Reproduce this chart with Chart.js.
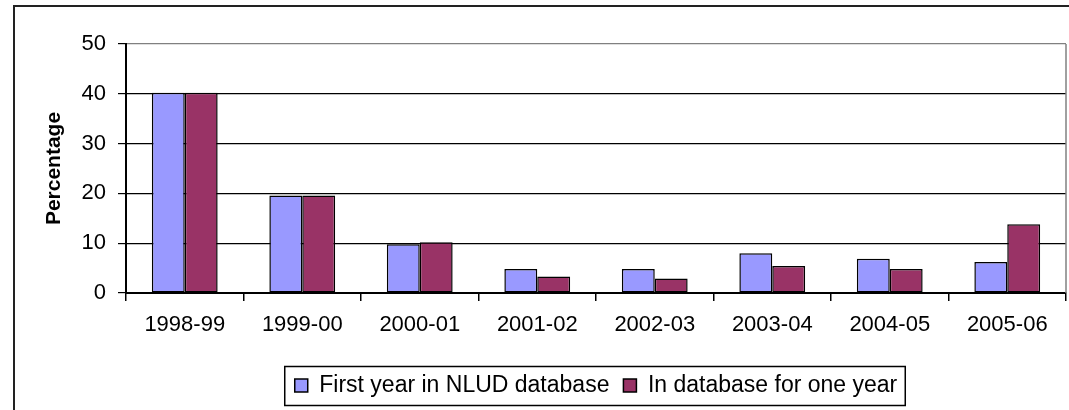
<!DOCTYPE html>
<html>
<head>
<meta charset="utf-8">
<script src="https://cdn.jsdelivr.net/npm/chart.js@4"></script>
<style>
  html, body { margin: 0; padding: 0; background: #fff; }
  #wrap { width: 1069px; height: 410px; }
</style>
</head>
<body>
<div id="wrap"><canvas id="chart" width="1069" height="410"></canvas></div>
<script>
// data
const years = ["1998-99", "1999-00", "2000-01", "2001-02", "2002-03", "2003-04", "2004-05", "2005-06"];
const firstYear = [40.2, 19.6, 9.8, 4.8, 4.8, 8.0, 6.9, 6.2];
const oneYear = [40.2, 19.6, 10.2, 3.3, 2.9, 5.4, 4.8, 13.8];
const yTicks = [0, 10, 20, 30, 40, 50];

const FONT = "Arial, 'Liberation Sans', sans-serif";

// outer frame, grey plot border on the right, box round the legend
const framePlugin = {
  id: "frame",
  afterDraw(chart) {
    const ctx = chart.ctx;
    const a = chart.chartArea;
    ctx.save();
    ctx.strokeStyle = "#222";
    ctx.lineWidth = 2;
    ctx.beginPath();
    ctx.moveTo(14, 410);
    ctx.lineTo(14, 6);
    ctx.lineTo(1069, 6);
    ctx.stroke();

    ctx.strokeStyle = "#808080";
    ctx.lineWidth = 1.5;
    ctx.beginPath();
    ctx.moveTo(a.right, a.top);
    ctx.lineTo(a.right, a.bottom);
    ctx.stroke();

    const boxes = chart.legend.legendHitBoxes;
    if (boxes && boxes.length) {
      const x0 = Math.min(...boxes.map(b => b.left)) - 10;
      const x1 = Math.max(...boxes.map(b => b.left + b.width)) + 8;
      const yc = boxes[0].top + boxes[0].height / 2;
      ctx.strokeStyle = "#000";
      ctx.lineWidth = 1.5;
      ctx.strokeRect(x0, yc - 19, x1 - x0, 39);
    }
    ctx.restore();
  }
};

new Chart(document.getElementById("chart"), {
  type: "bar",
  data: {
    labels: years,
    datasets: [
      {
        label: "First year in NLUD database",
        data: firstYear,
        backgroundColor: "#9999FF",
        borderColor: "#000",
        borderWidth: 1.5,
        borderSkipped: false
      },
      {
        label: "In database for one year",
        data: oneYear,
        backgroundColor: "#993366",
        borderColor: "#000",
        borderWidth: 1.5,
        borderSkipped: false
      }
    ]
  },
  options: {
    responsive: false,
    animation: false,
    events: [],
    layout: { padding: { top: 44, right: 3, bottom: 3, left: 42 } },
    datasets: { bar: { categoryPercentage: 0.56, barPercentage: 1 } },
    scales: {
      x: {
        grid: { offset: true, drawOnChartArea: false, drawTicks: true, tickLength: 8, color: "#000", lineWidth: 1.5 },
        border: { color: "#000", width: 2 },
        ticks: { color: "#000", font: { family: FONT, size: 22 }, padding: 11, maxRotation: 0 },
        afterFit(s) { s.height = 67; }
      },
      y: {
        min: 0,
        max: 50,
        afterBuildTicks(s) { s.ticks = yTicks.map(v => ({ value: v })); },
        grid: {
          color: ctx => (ctx.tick && ctx.tick.value === 50 ? "#808080" : "#000"),
          lineWidth: 1.2,
          tickLength: 8,
          tickColor: "#000"
        },
        border: { color: "#000", width: 2 },
        ticks: { color: "#000", font: { family: FONT, size: 22 }, padding: 12 },
        title: { display: true, text: "Percentage", color: "#000", font: { family: FONT, size: 21, weight: "bold" }, padding: 0 },
        afterFit(s) { s.width = 84; }
      }
    },
    plugins: {
      legend: {
        position: "bottom",
        fullSize: false,
        labels: {
          color: "#000",
          font: { family: FONT, size: 23 },
          boxWidth: 13,
          boxHeight: 13,
          padding: 14
        }
      },
      tooltip: { enabled: false }
    }
  },
  plugins: [framePlugin]
});
</script>
</body>
</html>
